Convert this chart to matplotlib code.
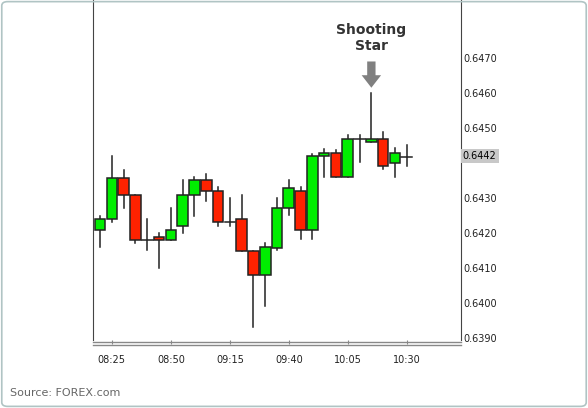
import matplotlib
matplotlib.use("Agg")
import matplotlib.pyplot as plt
from matplotlib.patches import FancyBboxPatch, Rectangle

times = ["08:20","08:25","08:30","08:35","08:40","08:45","08:50","08:55","09:00","09:05",
         "09:10","09:15","09:20","09:25","09:30","09:35","09:40","09:45","09:50","09:55",
         "10:00","10:05","10:10","10:15","10:20","10:25","10:30"]
opens  = [0.64209,0.64239,0.64358,0.64308,0.64180,0.64188,0.64180,0.64220,0.64308,0.64351,
          0.64319,0.64231,0.64239,0.64149,0.64079,0.64158,0.64271,0.64320,0.64209,0.64420,
          0.64428,0.64359,0.64468,0.64460,0.64468,0.64399,0.64418]
closes = [0.64239,0.64358,0.64308,0.64180,0.64180,0.64180,0.64209,0.64308,0.64351,0.64319,
          0.64231,0.64231,0.64149,0.64079,0.64159,0.64271,0.64329,0.64209,0.64420,0.64428,
          0.64359,0.64468,0.64468,0.64468,0.64390,0.64428,0.64418]
highs  = [0.64249,0.64420,0.64380,0.64308,0.64239,0.64200,0.64271,0.64351,0.64359,0.64369,
          0.64331,0.64300,0.64309,0.64149,0.64171,0.64299,0.64351,0.64332,0.64425,0.64440,
          0.64437,0.64480,0.64480,0.64601,0.64489,0.64442,0.64451]
lows   = [0.64160,0.64232,0.64271,0.64171,0.64151,0.64101,0.64180,0.64201,0.64249,0.64292,
          0.64221,0.64221,0.64149,0.63932,0.63991,0.64151,0.64251,0.64182,0.64182,0.64361,
          0.64359,0.64359,0.64404,0.64460,0.64382,0.64361,0.64391]
ytick_vals = [0.6390,0.6400,0.6410,0.6420,0.6430,0.6450,0.6460,0.6470]
last_price = 0.6442
xtick_labels = ["08:25","08:50","09:15","09:40","10:05","10:30"]

fig = plt.figure(figsize=(5.88,4.08), dpi=100)
ax = fig.add_axes([93/588, 68/408, 368/588, 340/408])
w = 0.9
for i,(o,c,h,l) in enumerate(zip(opens,closes,highs,lows)):
    ax.plot([i,i],[l,h],color="#222222",lw=1.1,zorder=1)
    if abs(c-o) < 1e-6:
        ax.plot([i-w/2,i+w/2],[o,o],color="#222222",lw=1.1,zorder=2)
    else:
        col = "#00ee00" if c>o else "#ff2200"
        ax.add_patch(Rectangle((i-w/2,min(o,c)),w,abs(c-o),facecolor=col,edgecolor="#222222",lw=1.1,zorder=2))
ax.set_xlim(-0.6,30.6)
ax.set_ylim(0.63894,0.648657)
ax.spines["top"].set_visible(False)
ax.spines["bottom"].set_visible(False)
for s in ["left","right"]:
    ax.spines[s].set_color("#444444")
ax.yaxis.tick_right()
ax.set_yticks(ytick_vals)
ax.set_yticklabels([f"{v:.4f}" for v in ytick_vals], fontsize=7, color="#222222")
ax.tick_params(axis="y", length=0, pad=2)
ax.text(1.005, last_price, f"{last_price:.4f}", transform=ax.get_yaxis_transform(), fontsize=7,
        va="center", ha="left", bbox=dict(facecolor="#c8c8c8", edgecolor="none", pad=1.5))
pos = [times.index(t) for t in xtick_labels]
ax.set_xticks(pos)
ax.set_xticklabels(xtick_labels, fontsize=7, color="#222222")
ax.tick_params(axis="x", length=3, pad=8, color="#888888")
for yy in [-0.006,-0.015]:
    ax.plot([0,1],[yy,yy],transform=ax.transAxes,color="#888888",lw=1,clip_on=False)
i_star = times.index("10:15")
ax.annotate("", xy=(i_star, 0.64615), xytext=(i_star, 0.6469),
            arrowprops=dict(facecolor="#808080", edgecolor="none", width=6, headwidth=14, headlength=9))
ax.text(i_star, 0.64715, "Shooting\nStar", ha="center", va="bottom", fontsize=10,
        fontweight="bold", color="#333333", linespacing=1.2)
fig.text(10/588, 1-393/408, "Source: FOREX.com", fontsize=8, color="#666666", va="center")
fig.patches.append(FancyBboxPatch((0.003,0.004),0.994,0.992, boxstyle="round,pad=0,rounding_size=0.01",
                                  transform=fig.transFigure, facecolor="none", edgecolor="#b0c4c4", lw=1.2))
fig.savefig("out.png", dpi=100)
